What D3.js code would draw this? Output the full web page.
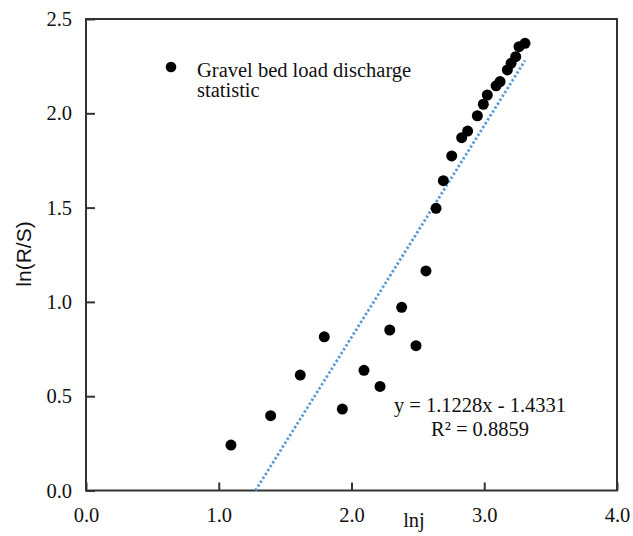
<!DOCTYPE html>
<meta charset="utf-8">
<style>
    body { margin: 0; background: #fff; }
    text { font-family: "Liberation Serif", "Times New Roman", serif; fill: #111; }
    .axis text { font-size: 20.5px; }
    .axis line { stroke: #333; stroke-width: 2; }
    .frame { fill: none; stroke: #333; stroke-width: 2; }
    .trend { fill: none; stroke: #5b9bd5; stroke-width: 2.8; stroke-dasharray: 2.4, 2.2; }
</style>
<body>
<script src="https://cdn.jsdelivr.net/npm/d3@7"></script>
<script>
    // lnj values
    var lnj = [1.092, 1.391, 1.614, 1.795, 1.931, 2.094, 2.215, 2.288, 2.378, 2.486,
               2.561, 2.637, 2.692, 2.755, 2.830, 2.875, 2.948, 2.993, 3.023, 3.089,
               3.119, 3.174, 3.202, 3.237, 3.262, 3.307];
    // ln(R/S) values
    var lnRS = [0.241, 0.397, 0.612, 0.815, 0.432, 0.637, 0.552, 0.851, 0.971, 0.768,
                1.164, 1.496, 1.643, 1.774, 1.871, 1.906, 1.987, 2.048, 2.097, 2.146,
                2.168, 2.230, 2.265, 2.300, 2.353, 2.371];
    var xTicks = [0, 1, 2, 3, 4];
    var yTicks = [0, 0.5, 1, 1.5, 2, 2.5];
    var slope = 1.1228, intercept = -1.4331;
    var eqLabel = "y = 1.1228x - 1.4331";
    var r2Label = "R² = 0.8859";
    var seriesName = ["Gravel bed load discharge", "statistic"];

    var width = 633, height = 536;
    var plotL = 86, plotR = 617, plotT = 19, plotB = 490.5;

    var svg = d3.select("body").append("svg")
        .attr("width", width)
        .attr("height", height);

    var x = d3.scaleLinear().domain([0, 4]).range([plotL, plotR]);
    var y = d3.scaleLinear().domain([0, 2.5]).range([plotB, plotT]);

    // axes, ticks pointing inward
    var xAxis = svg.append("g")
        .attr("class", "axis")
        .attr("transform", "translate(0," + plotB + ")")
        .call(d3.axisBottom(x).tickValues(xTicks).tickFormat(d3.format(".1f"))
            .tickSize(-8).tickPadding(17));
    xAxis.select(".domain").remove();

    var yAxis = svg.append("g")
        .attr("class", "axis")
        .attr("transform", "translate(" + plotL + ",0)")
        .call(d3.axisLeft(y).tickValues(yTicks).tickFormat(d3.format(".1f"))
            .tickSize(-9).tickPadding(14));
    yAxis.select(".domain").remove();

    svg.append("rect")
        .attr("class", "frame")
        .attr("x", plotL).attr("y", plotT)
        .attr("width", plotR - plotL).attr("height", plotB - plotT);

    // trendline, clipped at y = 0
    var x0 = -intercept / slope, x1 = d3.max(lnj);
    svg.append("line")
        .attr("class", "trend")
        .attr("x1", x(x0)).attr("y1", y(slope * x0 + intercept))
        .attr("x2", x(x1)).attr("y2", y(slope * x1 + intercept));

    svg.append("g").selectAll("circle")
        .data(lnj)
        .enter().append("circle")
        .attr("cx", function(d) { return x(d); })
        .attr("cy", function(d, i) { return y(lnRS[i]); })
        .attr("r", 5.5)
        .style("fill", "#000");

    // legend
    svg.append("circle")
        .attr("cx", 171).attr("cy", 67).attr("r", 5.3)
        .style("fill", "#000");
    svg.append("text")
        .attr("x", 197).attr("y", 77)
        .style("font-size", "20.5px")
        .text(seriesName[0]);
    svg.append("text")
        .attr("x", 197).attr("y", 97)
        .style("font-size", "20.5px")
        .text(seriesName[1]);

    // equation
    svg.append("text")
        .attr("x", 480).attr("y", 412)
        .attr("text-anchor", "middle")
        .style("font-size", "20.5px")
        .text(eqLabel);
    svg.append("text")
        .attr("x", 480).attr("y", 436)
        .attr("text-anchor", "middle")
        .style("font-size", "20.5px")
        .text(r2Label);

    // axis titles
    svg.append("text")
        .attr("x", 414).attr("y", 527)
        .attr("text-anchor", "middle")
        .style("font-size", "20.5px")
        .text("lnj");
    svg.append("text")
        .attr("transform", "translate(31,254) rotate(-90)")
        .attr("text-anchor", "middle")
        .style("font-family", "'Liberation Sans', Arial, sans-serif")
        .style("font-size", "21px")
        .text("ln(R/S)");
</script>
</body>
